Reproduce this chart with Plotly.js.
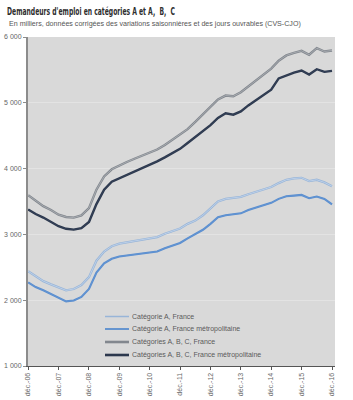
<!DOCTYPE html>
<html><head><meta charset="utf-8">
<script src="https://cdn.plot.ly/plotly-3.0.1.min.js"></script>
<style>html,body{margin:0;padding:0;background:#fff;} #chart{width:353px;height:400px;}</style>
</head><body><div id="chart"></div>
<script>
const dates = ['2006-12-01','2007-03-01','2007-06-01','2007-09-01','2007-12-01','2008-03-01','2008-06-01','2008-09-01','2008-12-01','2009-03-01','2009-06-01','2009-09-01','2009-12-01','2010-03-01','2010-06-01','2010-09-01','2010-12-01','2011-03-01','2011-06-01','2011-09-01','2011-12-01','2012-03-01','2012-06-01','2012-09-01','2012-12-01','2013-03-01','2013-06-01','2013-09-01','2013-12-01','2014-03-01','2014-06-01','2014-09-01','2014-12-01','2015-03-01','2015-06-01','2015-09-01','2015-12-01','2016-03-01','2016-06-01','2016-09-01','2016-12-01'];
const catAFrance = [2440,2360,2290,2240,2190,2150,2170,2230,2350,2600,2740,2820,2860,2880,2900,2910,2930,2960,3010,3050,3090,3160,3210,3290,3400,3500,3540,3550,3570,3610,3650,3690,3720,3780,3830,3850,3860,3810,3830,3790,3733];
const catAMetro = [2270,2200,2150,2090,2036,1982,1995,2050,2170,2420,2560,2630,2665,2680,2700,2710,2720,2740,2790,2830,2870,2940,3000,3070,3160,3260,3290,3300,3320,3370,3410,3450,3480,3540,3580,3590,3600,3550,3575,3540,3455];
const catABCFrance = [3596,3510,3430,3370,3300,3265,3255,3290,3400,3680,3880,3990,4050,4100,4150,4200,4240,4290,4360,4440,4510,4600,4710,4820,4930,5050,5110,5100,5160,5250,5340,5430,5520,5640,5720,5760,5790,5730,5830,5780,5795];
const catABCMetro = [3378,3310,3256,3190,3124,3085,3073,3095,3190,3460,3680,3800,3850,3900,3960,4010,4060,4110,4170,4230,4300,4390,4480,4560,4660,4770,4840,4820,4870,4960,5040,5120,5200,5370,5420,5460,5490,5430,5510,5470,5486];
const seriesNames = ['Catégorie A, France','Catégorie A, France métropolitaine','Catégories A, B, C, France','Catégories A, B, C, France métropolitaine'];
const xTickVals = ['2006-12-01','2007-12-01','2008-12-01','2009-12-01','2010-12-01','2011-12-01','2012-12-01','2013-12-01','2014-12-01','2015-12-01','2016-12-01'];
const xTickText = ['déc.-06','déc.-07','déc.-08','déc.-09','déc.-10','déc.-11','déc.-12','déc.-13','déc.-14','déc.-15','déc.-16'];
const yTickVals = [1000,2000,3000,4000,5000,6000];
const yTickText = ['1 000','2 000','3 000','4 000','5 000','6 000'];

const seriesData = [catAFrance, catAMetro, catABCFrance, catABCMetro];
const outerColors = ['#98b5d8','#5a8ecf','#82878e','#2c384d'];
const innerColors = ['#c6d7ec','#6496d3','#b0b4b9','#36435a'];
const outerWidths = [2.3,2.1,2.4,2.4];
const innerWidths = [0.8,0.8,0.8,0.8];
const legendWidths = [1.5,1.8,2.6,2.6];

const traces = [];
seriesData.forEach((vals, i) => {
  traces.push({x: dates, y: vals, type: 'scatter', mode: 'lines', name: seriesNames[i],
    line: {color: outerColors[i], width: outerWidths[i]}, showlegend: false, hoverinfo: 'skip'});
  traces.push({x: dates, y: vals, type: 'scatter', mode: 'lines', name: seriesNames[i],
    line: {color: innerColors[i], width: innerWidths[i]}, showlegend: false, hoverinfo: 'skip'});
});

// manual legend (pixel positions converted to paper coords)
const L = 28, R = 335, T = 37, B = 366;
const px = x => (x - L) / (R - L);
const py = y => (B - y) / (B - T);
const legendRows = [316.5, 329, 342, 355];
const shapes = [];
const annotations = [];
seriesNames.forEach((n, i) => {
  shapes.push({type: 'line', xref: 'paper', yref: 'paper', x0: px(105), x1: px(129), y0: py(legendRows[i]), y1: py(legendRows[i]),
    line: {color: outerColors[i], width: legendWidths[i]}});
  annotations.push({xref: 'paper', yref: 'paper', x: px(129.5), y: py(legendRows[i]), xanchor: 'left', yanchor: 'middle',
    text: n, showarrow: false, font: {family: 'Liberation Sans, Arial, sans-serif', size: 7, color: '#5a5a5a'}});
});
annotations.push({xref: 'paper', yref: 'paper', x: px(7), y: py(24), xanchor: 'left', yanchor: 'middle', showarrow: false,
  text: 'En milliers, données corrigées des variations saisonnières et des jours ouvrables (CVS-CJO)',
  font: {family: 'Liberation Sans, Arial, sans-serif', size: 7.1, color: '#555555'}});

const layout = {
  width: 353, height: 400,
  margin: {l: L, r: 353 - R, t: T, b: 400 - B, pad: 0},
  paper_bgcolor: '#ffffff', plot_bgcolor: '#d9d9d9',
  showlegend: false,
  title: {text: "Demandeurs d'emploi en catégories A et A,  B,  C", xref: 'container', yref: 'container',
    x: 7/353, xanchor: 'left', y: 1 - 11/400, yanchor: 'middle',
    font: {family: 'Liberation Sans Narrow, DejaVu Sans Condensed, Arial Narrow, sans-serif', size: 10, color: '#2e2e2e', weight: 'bold'}},
  xaxis: {type: 'date', range: ['2006-11-29', '2017-01-06'], tickvals: xTickVals, ticktext: xTickText, tickangle: -90,
    showgrid: false, zeroline: false, showline: true, linecolor: '#555555', linewidth: 1,
    ticks: 'outside', ticklen: 3, tickcolor: '#555555',
    tickfont: {family: 'Liberation Sans, Arial, sans-serif', size: 7, color: '#666666'}},
  yaxis: {range: [1000, 6000], tickvals: yTickVals, ticktext: yTickText, showgrid: true, gridcolor: '#e3e3e3', gridwidth: 1,
    zeroline: false, showline: true, linecolor: '#8c8c8c', linewidth: 2, ticks: 'outside', ticklen: 3, tickcolor: '#8c8c8c',
    tickfont: {family: 'Liberation Sans, Arial, sans-serif', size: 7, color: '#666666'}},
  shapes: shapes, annotations: annotations
};

Plotly.newPlot('chart', traces, layout, {staticPlot: true, displayModeBar: false}).then(gd => {
  const t = gd.querySelector('.gtitle');
  if (t) { t.setAttribute('textLength', '168'); t.setAttribute('lengthAdjust', 'spacingAndGlyphs'); }
});
</script></body></html>
